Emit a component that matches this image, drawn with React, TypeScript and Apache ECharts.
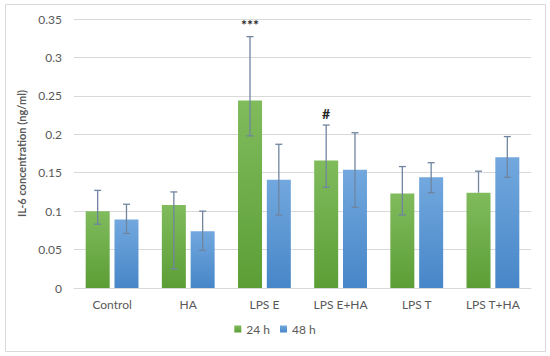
import React, { useEffect, useRef } from "react";
import * as echarts from "echarts";

const categories = ["Control", "HA", "LPS E", "LPS E+HA", "LPS T", "LPS T+HA"];
const seriesNames = ["24 h", "48 h"];
const values24 = [0.1, 0.108, 0.244, 0.166, 0.123, 0.124];
const errHigh24 = [0.127, 0.125, 0.327, 0.212, 0.158, 0.152];
const errLow24 = [0.083, 0.025, 0.198, 0.131, 0.095, 0.124];
const values48 = [0.089, 0.074, 0.141, 0.154, 0.144, 0.17];
const errHigh48 = [0.109, 0.1, 0.187, 0.202, 0.163, 0.197];
const errLow48 = [0.071, 0.049, 0.095, 0.105, 0.124, 0.144];
const annotations24 = ["", "", "***", "#", "", ""];
const yTicks = { min: 0, max: 0.35, interval: 0.05 };

const BAR_W = 24;
const BAR_GAP = "20%";
const HALF_OFFSET = (24 + 4.8) / 2;

function errorSeries(
  name: string,
  values: number[],
  high: number[],
  low: number[],
  notes: string[],
  offset: number
) {
  const data = categories.map((_, i) => [i, low[i], high[i], values[i]]);
  return {
    type: "custom",
    name: name + " err",
    data,
    z: 10,
    silent: true,
    encode: { x: 0, y: [1, 2] },
    renderItem: (params: any, api: any) => {
      const i = api.value(0);
      const lowV = api.value(1);
      const highV = api.value(2);
      const val = api.value(3);
      const lo = api.coord([i, lowV]);
      const hi = api.coord([i, highV]);
      const x = lo[0] + offset;
      const cap = 3.5;
      const style = { stroke: "#7085a0", lineWidth: 1.3 };
      const children: any[] = [
        { type: "line", shape: { x1: x, y1: hi[1], x2: x, y2: lo[1] }, style },
        { type: "line", shape: { x1: x - cap, y1: hi[1], x2: x + cap, y2: hi[1] }, style },
      ];
      if (lowV < val) {
        children.push({ type: "line", shape: { x1: x - cap, y1: lo[1], x2: x + cap, y2: lo[1] }, style });
      }
      const note = notes[params.dataIndex];
      if (note) {
        children.push({
          type: "text",
          style: {
            text: note,
            x: x,
            y: hi[1] - 5,
            align: "center",
            verticalAlign: "bottom",
            fill: "#262626",
            font: "bold 14px Lato",
          },
        });
      }
      return { type: "group", children };
    },
  };
}

function gradient(top: string, bottom: string) {
  return new echarts.graphic.LinearGradient(0, 0, 0, 1, [
    { offset: 0, color: top },
    { offset: 1, color: bottom },
  ]);
}

export default function App() {
  const ref = useRef<HTMLDivElement>(null);
  useEffect(() => {
    document.body.style.margin = "0";
    const chart = echarts.init(ref.current!, null, { renderer: "svg" });
    const font = "Lato";
    chart.setOption({
      animation: false,
      textStyle: { fontFamily: font },
      graphic: [
        {
          type: "rect",
          shape: { x: 5.5, y: 4.5, width: 540, height: 347 },
          style: { fill: "none", stroke: "#d9d9d9", lineWidth: 1 },
          silent: true,
        },
      ],
      grid: { left: 74, right: 19, top: 19, bottom: 68 },
      legend: {
        data: seriesNames,
        bottom: 16,
        left: "center",
        icon: "rect",
        itemWidth: 7,
        itemHeight: 7,
        itemGap: 10,
        textStyle: { color: "#595959", fontSize: 12, fontFamily: font },
      },
      xAxis: {
        type: "category",
        data: categories,
        axisLine: { lineStyle: { color: "#d9d9d9" } },
        axisTick: { show: false },
        axisLabel: { color: "#595959", fontSize: 12, margin: 10, fontFamily: font },
      },
      yAxis: {
        type: "value",
        min: yTicks.min,
        max: yTicks.max,
        interval: yTicks.interval,
        name: "IL-6 concentration (ng/ml)",
        nameLocation: "middle",
        nameGap: 38,
        nameTextStyle: { color: "#595959", fontSize: 11, fontWeight: "bold", fontFamily: font },
        axisLine: { show: false },
        axisTick: { show: false },
        splitLine: { lineStyle: { color: "#d9d9d9" } },
        axisLabel: { color: "#595959", fontSize: 12, margin: 12, fontFamily: font },
      },
      series: [
        {
          type: "bar",
          name: seriesNames[0],
          data: values24,
          barWidth: BAR_W,
          barGap: BAR_GAP,
          itemStyle: { color: gradient("#80bb5c", "#5c9e36") },
        },
        {
          type: "bar",
          name: seriesNames[1],
          data: values48,
          barWidth: BAR_W,
          barGap: BAR_GAP,
          itemStyle: { color: gradient("#72a8de", "#4786c8") },
        },
        errorSeries(seriesNames[0], values24, errHigh24, errLow24, annotations24, -HALF_OFFSET),
        errorSeries(seriesNames[1], values48, errHigh48, errLow48, ["", "", "", "", "", ""], HALF_OFFSET),
      ],
    });
    return () => chart.dispose();
  }, []);
  return <div ref={ref} style={{ width: 550, height: 356, background: "#fff" }} />;
}
